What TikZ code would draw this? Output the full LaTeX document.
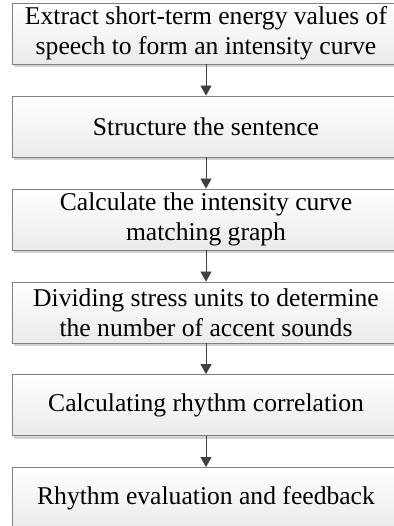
\documentclass[tikz,border=0pt]{standalone}
\usepackage{fontspec}
\setmainfont{Liberation Serif}
\usetikzlibrary{arrows.meta,shadows}

\begin{document}
\begin{tikzpicture}[>={Triangle[length=10pt,width=11pt]},x=1pt,y=1pt,
 font=\fontsize{25.6}{29.5}\selectfont,
 stepbox/.style={draw=black!50,line width=0.8pt,align=center,inner sep=0pt,
  minimum width=388pt,minimum height=61pt,top color=white,bottom color=black!8,
  drop shadow={shadow xshift=2pt,shadow yshift=-3pt,fill=black!18,opacity=1}},
 link/.style={->,draw=black!75,line width=0.7pt}]
\useasboundingbox (0,0) rectangle (393,-526);
\node[stepbox] (s1) at (206,-33.5) {Extract short-term energy values of\\speech to form an intensity curve};
\node[stepbox] (s2) at (206,-126.5) {Structure the sentence};
\node[stepbox] (s3) at (206,-219.5) {Calculate the intensity curve\\matching graph};
\node[stepbox] (s4) at (206,-312.5) {Dividing stress units to determine\\the number of accent sounds};
\node[stepbox] (s5) at (206,-405) {Calculating rhythm correlation};
\node[stepbox] (s6) at (206,-498) {Rhythm evaluation and feedback};
\draw[link] (s1) -- (s2);
\draw[link] (s2) -- (s3);
\draw[link] (s3) -- (s4);
\draw[link] (s4) -- (s5);
\draw[link] (s5) -- (s6);
\end{tikzpicture}
\end{document}
